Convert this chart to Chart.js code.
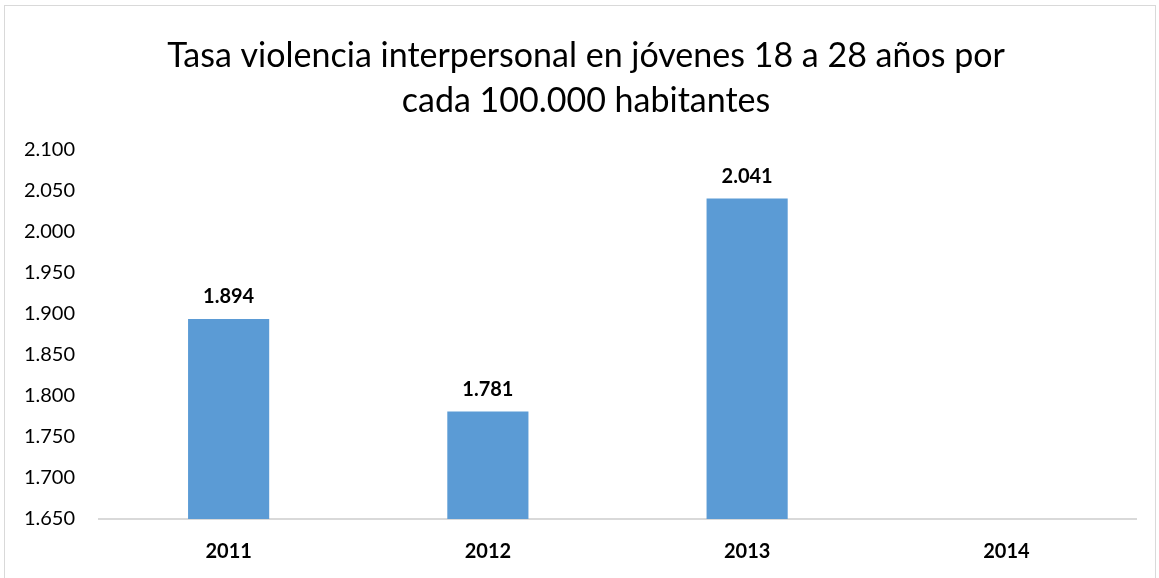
<!DOCTYPE html>
<html>
<head>
<meta charset="utf-8">
<script src="https://cdn.jsdelivr.net/npm/chart.js@4/dist/chart.umd.min.js"></script>
<style>
  body { margin: 0; background: #fff; }
  #wrap { position: absolute; left: 4px; top: 5px; width: 1152px; height: 580px; border: 1px solid #d9d9d9; box-sizing: border-box; }
</style>
</head>
<body>
<div id="wrap"><canvas id="myChart"></canvas></div>
<script>
const categories = ['2011', '2012', '2013', '2014'];
const values = [1894, 1781, 2041, null];
const yTicks = [1650, 1700, 1750, 1800, 1850, 1900, 1950, 2000, 2050, 2100];
const titleLines = ['Tasa violencia interpersonal en jóvenes 18 a 28 años por', 'cada 100.000 habitantes'];

// formato con punto de miles
function fmt(v) {
    return v.toString().replace(/\B(?=(\d{3})+(?!\d))/g, '.');
}

// título (un poco a la derecha del centro, como en el original)
const titlePlugin = {
    id: 'titleText',
    afterDraw(chart) {
        const ctx = chart.ctx;
        ctx.save();
        ctx.font = '34px Lato';
        ctx.fillStyle = '#000';
        ctx.textAlign = 'center';
        ctx.textBaseline = 'middle';
        titleLines.forEach((t, i) => {
            ctx.fillText(t, chart.width / 2 + 6, 50 + i * 45);
        });
        ctx.restore();
    }
};

// etiquetas de datos encima de las barras
const dataLabels = {
    id: 'dataLabels',
    afterDatasetsDraw(chart) {
        const ctx = chart.ctx;
        const meta = chart.getDatasetMeta(0);
        ctx.save();
        ctx.font = 'bold 20px Lato';
        ctx.fillStyle = '#000';
        ctx.textAlign = 'center';
        ctx.textBaseline = 'bottom';
        meta.data.forEach((bar, i) => {
            if (values[i] == null) return;
            ctx.fillText(fmt(values[i]), bar.x, bar.y - 12);
        });
        ctx.restore();
    }
};

const ctx = document.getElementById('myChart').getContext('2d');
new Chart(ctx, {
    type: 'bar',
    data: {
        labels: categories,
        datasets: [{
            data: values,
            backgroundColor: '#5b9bd5',
            categoryPercentage: 1,
            barPercentage: 0.313
        }]
    },
    options: {
        responsive: true,
        maintainAspectRatio: false,
        animation: false,
        layout: { padding: { left: 0, right: 19, top: 144, bottom: 7 } },
        plugins: {
            legend: { display: false },
            tooltip: { enabled: false },
            title: { display: false }
        },
        scales: {
            x: {
                grid: { display: false },
                border: { display: true, color: '#d9d9d9', width: 2 },
                ticks: { color: '#000', font: { family: 'Lato', size: 20, weight: 'bold' }, padding: 13 }
            },
            y: {
                min: 1650,
                max: 2100,
                afterBuildTicks: s => { s.ticks = yTicks.map(v => ({ value: v })); },
                afterFit: s => { s.width = 94; },
                grid: { display: false },
                border: { display: false },
                ticks: {
                    color: '#000',
                    font: { family: 'Lato', size: 20 },
                    padding: 16,
                    callback: v => fmt(v)
                }
            }
        }
    },
    plugins: [dataLabels, titlePlugin]
});
</script>
</body>
</html>
